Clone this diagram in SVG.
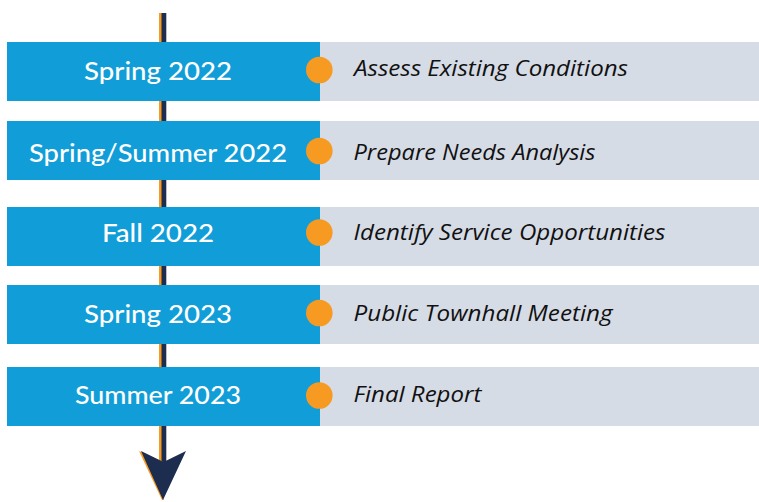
<svg xmlns="http://www.w3.org/2000/svg" width="759" height="502" viewBox="0 0 759 502">
<style>
.blue{fill:#109dd8}
.grey{fill:#d6dce6}
.dot{fill:#f79a22}
.lbl{font-family:"Lato","Liberation Sans",sans-serif;font-weight:500;font-size:25px;fill:#ffffff;text-anchor:middle}
.task{font-family:"Open Sans","Liberation Sans",sans-serif;font-style:italic;font-size:22.5px;fill:#111111}
</style>
<rect width="759" height="502" fill="#ffffff"/>
<g id="connectors">
<rect x="159" y="13" width="3" height="450" fill="#f79a22"/>
<rect x="161.5" y="13" width="4.8" height="450" fill="#1c2d4f"/>
<polygon points="139,451 162,500 163.5,500 163,462" fill="#f79a22"/>
<polygon points="141,451 163,500 186,451 163.5,462" fill="#1c2d4f"/>
</g>
<g id="node1">
<rect class="blue" x="7" y="42" width="313" height="59"/>
<rect class="grey" x="320" y="42" width="439" height="59"/>
<circle class="dot" cx="319.3" cy="70" r="13.3"/>
<text class="lbl" x="158" y="79.5" textLength="148" lengthAdjust="spacingAndGlyphs">Spring 2022</text>
<text class="task" x="354" y="76" textLength="274" lengthAdjust="spacingAndGlyphs">Assess Existing Conditions</text>
</g>
<g id="node2">
<rect class="blue" x="7" y="121" width="313" height="59"/>
<rect class="grey" x="320" y="121" width="439" height="59"/>
<circle class="dot" cx="319.3" cy="151" r="13.3"/>
<text class="lbl" x="158" y="161.5" textLength="258" lengthAdjust="spacingAndGlyphs">Spring/Summer 2022</text>
<text class="task" x="353.5" y="160" textLength="242" lengthAdjust="spacingAndGlyphs">Prepare Needs Analysis</text>
</g>
<g id="node3">
<rect class="blue" x="7" y="207" width="313" height="59"/>
<rect class="grey" x="320" y="207" width="439" height="59"/>
<circle class="dot" cx="319.3" cy="232.5" r="13.3"/>
<text class="lbl" x="158" y="242.3" textLength="112" lengthAdjust="spacingAndGlyphs">Fall 2022</text>
<text class="task" x="353.5" y="240" textLength="312" lengthAdjust="spacingAndGlyphs">Identify Service Opportunities</text>
</g>
<g id="node4">
<rect class="blue" x="7" y="285" width="313" height="59"/>
<rect class="grey" x="320" y="285" width="439" height="59"/>
<circle class="dot" cx="319.3" cy="313" r="13.3"/>
<text class="lbl" x="158" y="322.5" textLength="148" lengthAdjust="spacingAndGlyphs">Spring 2023</text>
<text class="task" x="353.5" y="321" textLength="259" lengthAdjust="spacingAndGlyphs">Public Townhall Meeting</text>
</g>
<g id="node5">
<rect class="blue" x="7" y="367" width="313" height="59"/>
<rect class="grey" x="320" y="367" width="439" height="59"/>
<circle class="dot" cx="319.3" cy="395.5" r="13.3"/>
<text class="lbl" x="158" y="404.3" textLength="166" lengthAdjust="spacingAndGlyphs">Summer 2023</text>
<text class="task" x="353.5" y="402.3" textLength="128" lengthAdjust="spacingAndGlyphs">Final Report</text>
</g>
</svg>
